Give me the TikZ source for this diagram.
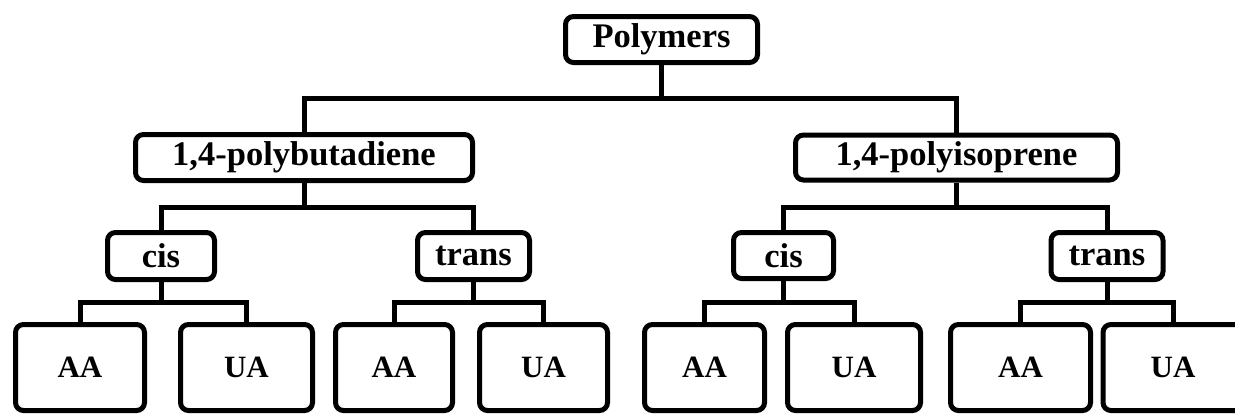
\documentclass[tikz,border=0pt]{standalone}
\usepackage{fontspec}
\setmainfont{Liberation Serif}
\begin{document}
\begin{tikzpicture}[x=1pt,y=-1pt,
  box/.style={draw=black, line width=5pt, rounded corners=8pt, fill=white, inner sep=0pt,
    font=\fontsize{34.5}{40}\selectfont\bfseries},
  leaf/.style={box, minimum height=86pt, font=\fontsize{31}{36}\selectfont\bfseries},
  link/.style={draw=black, line width=5pt}]
\useasboundingbox (0,0) rectangle (1235,413);
\clip (0,0) rectangle (1235,413);
% level 0
\node[box, minimum width=192pt, minimum height=46pt] (poly) at (661.5,39.5) {Polymers};
% level 1
\node[box, minimum width=337pt, minimum height=46pt] (pb) at (304,157.5) {1,4-polybutadiene};
\node[box, minimum width=322pt, minimum height=45pt] (pi) at (956.5,157.5) {1,4-polyisoprene};
% level 2
\node[box, minimum width=107pt, minimum height=47pt] (cisL) at (161,256) {cis};
\node[box, minimum width=112pt, minimum height=47pt] (transL) at (473.5,256) {trans};
\node[box, minimum width=100pt, minimum height=46pt] (cisR) at (783.5,255.5) {cis};
\node[box, minimum width=112pt, minimum height=47pt] (transR) at (1107,256) {trans};
% level 3
\node[leaf, minimum width=129pt] (aa1) at (80,367.5) {AA};
\node[leaf, minimum width=132pt] (ua1) at (246.5,367.5) {UA};
\node[leaf, minimum width=117pt] (aa2) at (394,367.5) {AA};
\node[leaf, minimum width=128pt] (ua2) at (543.5,367.5) {UA};
\node[leaf, minimum width=120pt] (aa3) at (704.5,367.5) {AA};
\node[leaf, minimum width=133pt] (ua3) at (854,367.5) {UA};
\node[leaf, minimum width=140pt] (aa4) at (1020.5,367.5) {AA};
\node[leaf, minimum width=140pt] (ua4) at (1173,367.5) {UA};
% junctions
\coordinate (j0) at (661.5,98);
\coordinate (j1) at (304,207);
\coordinate (j2) at (956.5,207);
\coordinate (j3) at (161,302);
\coordinate (j4) at (473.5,302);
\coordinate (j5) at (783.5,302);
\coordinate (j6) at (1107,302);
% connectors
\draw[link] (poly.south) -- (j0);
\draw[link] (pb.north) |- (j0) -| (pi.north);
\draw[link] (pb.south) -- (j1);
\draw[link] (cisL.north) |- (j1) -| (transL.north);
\draw[link] (pi.south) -- (j2);
\draw[link] (cisR.north) |- (j2) -| (transR.north);
\draw[link] (cisL.south) -- (j3);
\draw[link] (aa1.north) |- (j3) -| (ua1.north);
\draw[link] (transL.south) -- (j4);
\draw[link] (aa2.north) |- (j4) -| (ua2.north);
\draw[link] (cisR.south) -- (j5);
\draw[link] (aa3.north) |- (j5) -| (ua3.north);
\draw[link] (transR.south) -- (j6);
\draw[link] (aa4.north) |- (j6) -| (ua4.north);
\end{tikzpicture}
\end{document}
